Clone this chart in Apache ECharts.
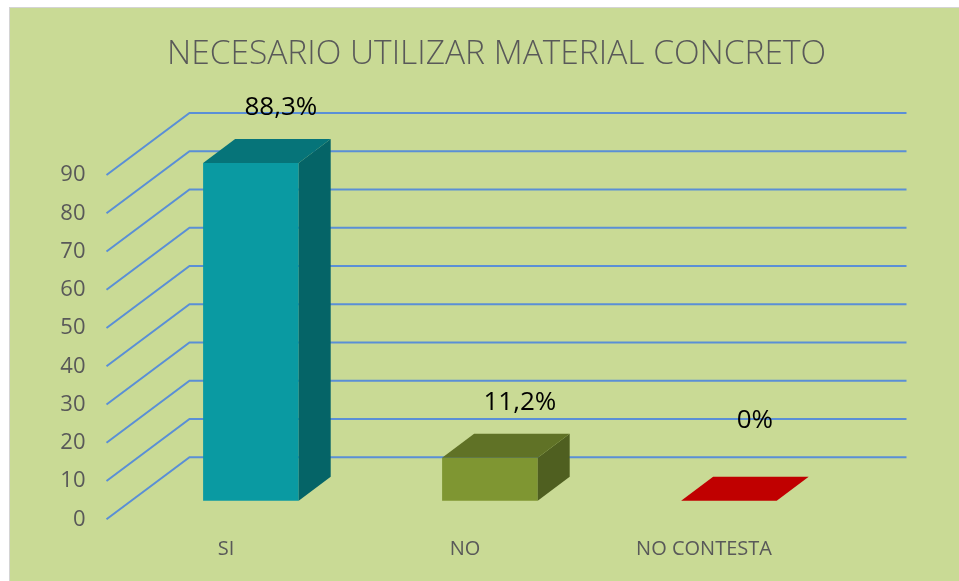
<!DOCTYPE html>
<html>
<head>
<meta charset="utf-8">
<title>Necesario utilizar material concreto</title>
<script src="https://cdn.jsdelivr.net/npm/echarts@6/dist/echarts.min.js"></script>
<style>
    html, body { margin: 0; padding: 0; background: #ffffff; }
    #fondo {
        position: absolute; left: 9px; top: 7px; width: 950px; height: 574px;
        background: #c9da95; border-left: 1px solid #d4d4d4; border-top: 1px solid #d4d4d4;
    }
    #chart { position: absolute; left: 0; top: 0; width: 959px; height: 581px; }
</style>
</head>
<body>
<div id="fondo"></div>
<div id="chart"></div>
<script>
// datos
var categorias = ['SI', 'NO', 'NO CONTESTA'];
var valores = [88.3, 11.2, 0];
var etiquetas = ['88,3%', '11,2%', '0%'];
var marcas = [0, 10, 20, 30, 40, 50, 60, 70, 80, 90];

// colores de cada barra: frente, tapa, lado
var colFrente = ['#0a9aa2', '#7f9632', '#c00000'];
var colTapa = ['#067479', '#607226', '#c00000'];
var colLado = ['#056467', '#4f5f20', '#a00000'];

// profundidad de la "pared" del fondo (efecto 3D)
var DX = 83, DY = 62;

var myChart = echarts.init(document.getElementById('chart'));
var option = {
    animation: false,
    title: {
        text: 'NECESARIO UTILIZAR MATERIAL CONCRETO',
        left: 162,
        top: 32,
        textStyle: {
            color: '#595959',
            fontFamily: 'Open Sans',
            fontWeight: 300,
            fontSize: 33.5
        }
    },
    grid: {
        left: 106.5,
        right: 135.5,
        top: 175,
        bottom: 61.7
    },
    xAxis: {
        type: 'category',
        data: categorias,
        axisLine: { show: false },
        axisTick: { show: false },
        axisLabel: {
            color: '#595959',
            fontFamily: 'Open Sans',
            fontSize: 20,
            margin: 20
        }
    },
    yAxis: {
        type: 'value',
        min: 0,
        max: 90,
        interval: 10,
        axisLine: { show: false },
        axisTick: { show: false },
        splitLine: { show: false },
        axisLabel: {
            color: '#595959',
            fontFamily: 'Open Sans',
            fontSize: 22,
            margin: 21
        }
    },
    series: [
        {
            // lineas de la pared: diagonal + horizontal
            type: 'custom',
            silent: true,
            z: 1,
            data: marcas.map(function (v) { return [0, v]; }),
            renderItem: function (params, api) {
                var cs = params.coordSys;
                var y = api.coord([0, api.value(1)])[1];
                return {
                    type: 'polyline',
                    shape: {
                        points: [
                            [cs.x, y],
                            [cs.x + DX, y - DY],
                            [cs.x + cs.width + DX, y - DY]
                        ]
                    },
                    style: { stroke: '#5a8fd6', lineWidth: 2, fill: null }
                };
            }
        },
        {
            // barras 3D
            type: 'custom',
            z: 2,
            data: valores.map(function (v, i) { return [i, v]; }),
            renderItem: function (params, api) {
                var i = api.value(0);
                var v = api.value(1);
                var top = api.coord([i, v]);
                var base = api.coord([i, 0]);
                var w = api.size([1, 0])[0] * 0.4;
                var fx = DX * 0.3, fy = DY * 0.3;
                var bx = 32, by = 24;
                var xl = top[0] - w / 2 + fx, xr = top[0] + w / 2 + fx;
                var yt = top[1] - fy, yb = base[1] - fy;
                var hijos = [];
                if (yb - yt > 0.5) {
                    hijos.push({
                        type: 'rect',
                        shape: { x: xl, y: yt, width: xr - xl, height: yb - yt },
                        style: { fill: colFrente[i] }
                    });
                    hijos.push({
                        type: 'polygon',
                        shape: { points: [[xr, yt], [xr + bx, yt - by], [xr + bx, yb - by], [xr, yb]] },
                        style: { fill: colLado[i] }
                    });
                }
                hijos.push({
                    type: 'polygon',
                    shape: { points: [[xl, yt], [xl + bx, yt - by], [xr + bx, yt - by], [xr, yt]] },
                    style: { fill: colTapa[i] }
                });
                hijos.push({
                    type: 'text',
                    style: {
                        text: etiquetas[i],
                        x: top[0] + fx + (v > 0 ? 30 : 26),
                        y: yt - (v > 0 ? 55 : 80),
                        align: 'center',
                        verticalAlign: 'middle',
                        fill: '#000000',
                        fontFamily: 'Open Sans',
                        fontSize: 26
                    }
                });
                return { type: 'group', children: hijos };
            }
        }
    ]
};
myChart.setOption(option);
</script>
</body>
</html>
